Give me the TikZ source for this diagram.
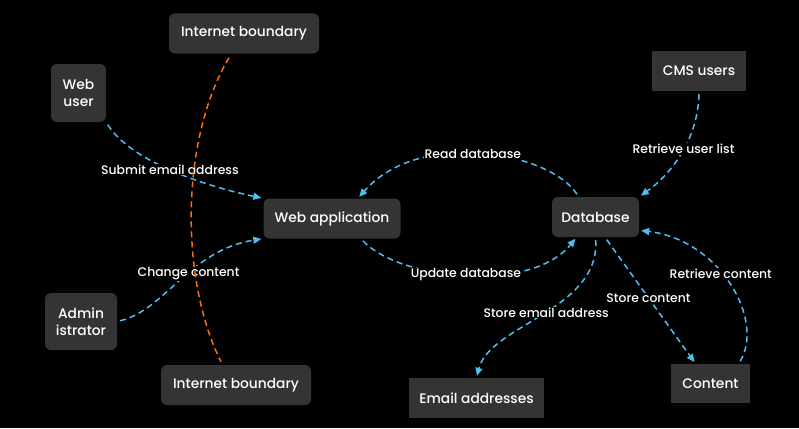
\documentclass[tikz,border=0pt]{standalone}
\usepackage{fontspec}
\setmainfont{Poppins}[UprightFont={* Medium}]
\usetikzlibrary{arrows.meta,positioning}

\definecolor{boxgray}{RGB}{52,52,52}
\definecolor{flowblue}{RGB}{79,190,240}
\definecolor{boundorange}{RGB}{255,110,10}

\tikzset{
    proc/.style={rectangle, rounded corners=6pt, fill=boxgray, text=white, align=center,
        font=\fontsize{13.8}{17}\selectfont, inner sep=0pt},
    store/.style={proc, rounded corners=0pt},
    flow/.style={flowblue, line width=1.5pt, dash pattern=on 6pt off 4pt,
        -{Triangle[length=8pt,width=7pt]}, shorten <=3pt, shorten >=2pt},
    flowlabel/.style={fill=black, text=white, inner sep=1pt, font=\fontsize{12.4}{14}\selectfont},
    boundary/.style={boundorange, line width=1.5pt, dash pattern=on 6pt off 4pt}
}

\begin{document}
\begin{tikzpicture}[x=1pt, y=-1pt]
    % Background
    \fill[black] (0,0) rectangle (799,428);
    \useasboundingbox (0,0) rectangle (799,428);

    % Processes and external entities
    \node[proc, minimum width=150pt, minimum height=40pt] (ibtop) at (244,33.5) {Internet boundary};
    \node[proc, minimum width=55pt, minimum height=58pt] (webuser) at (78.5,93) {Web\\user};
    \node[store, minimum width=94pt, minimum height=40pt] (cms) at (699,71) {CMS users};
    \node[proc, minimum width=137pt, minimum height=40pt] (webapp) at (332,218.5) {Web application};
    \node[proc, minimum width=87pt, minimum height=40pt] (database) at (595.5,217) {Database};
    \node[proc, minimum width=72pt, minimum height=57pt] (admin) at (81,321.5) {Admin\\istrator};
    \node[proc, minimum width=150pt, minimum height=40pt] (ibbottom) at (236,385) {Internet boundary};
    \node[store, minimum width=135pt, minimum height=40pt] (email) at (476.5,398) {Email addresses};
    \node[store, minimum width=79pt, minimum height=39pt] (content) at (710.5,383.5) {Content};

    % Data flows
    \draw[flow] (webuser.south east) .. controls (130,160) and (200,185) .. (webapp.north west)
        node[flowlabel, pos=0.5] (submit) {Submit email address};
    \draw[flow] (admin.east) .. controls (165,310) and (190,250) .. (webapp.south west)
        node[flowlabel, pos=0.56] (change) {Change content};
    \draw[flow] (database.130) .. controls (550,152) and (420,128) .. (webapp.38)
        node[flowlabel, pos=0.53] (read) {Read database};
    \draw[flow] (webapp.-35) .. controls (400,280) and (530,294) .. (database.-133)
        node[flowlabel, pos=0.5] (update) {Update database};
    \draw[flow] (cms.south) .. controls (698,140) and (670,175) .. (database.north east)
        node[flowlabel, pos=0.45] (userlist) {Retrieve user list};
    \draw[flow] (database.south) .. controls (600,310) and (490,325) .. (email.north)
        node[flowlabel, pos=0.48] (storeemail) {Store email address};
    \draw[flow] (database.-65) -- (content.127)
        node[flowlabel, pos=0.48] (storecontent) {Store content};
    \draw[flow] (content.35) .. controls (765,320) and (720,240) .. (database.-17)
        node[flowlabel, pos=0.57] (retrieve) {Retrieve content};

    % Trust boundary
    \draw[boundary] ([xshift=-15pt, yshift=-4pt]ibtop.south) .. controls (180,140) and (180,280) .. ([xshift=-15pt, yshift=3pt]ibbottom.north);
\end{tikzpicture}
\end{document}
